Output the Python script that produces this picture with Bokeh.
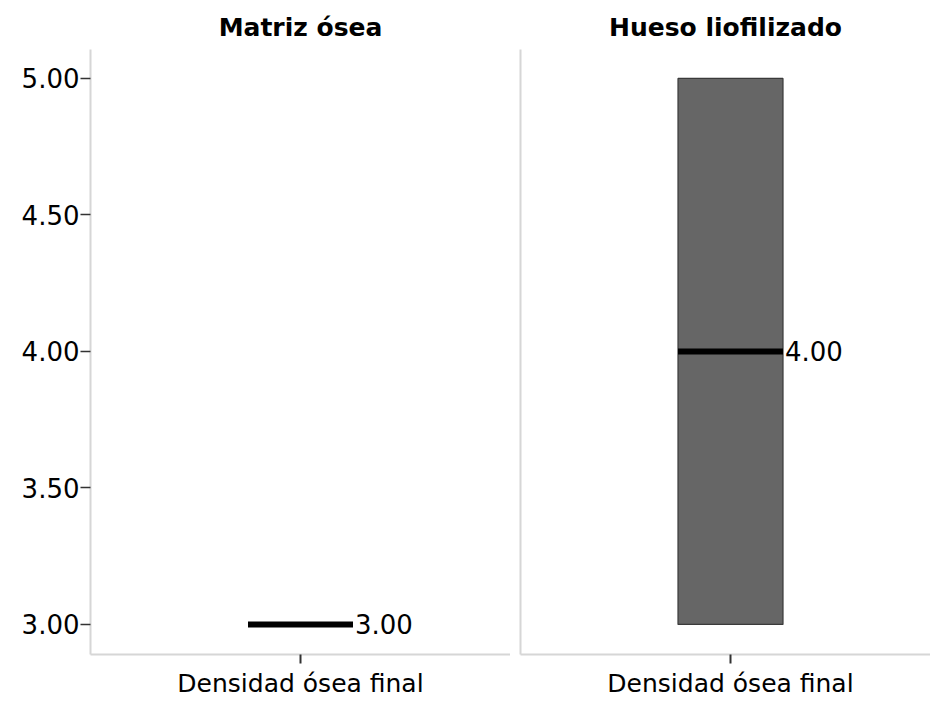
from bokeh.plotting import figure
from bokeh.layouts import row
from bokeh.models import Range1d, FixedTicker, NumeralTickFormatter, ColumnDataSource
from bokeh.core.properties import value
from bokeh.embed import file_html
from bokeh.resources import INLINE

# Box-plot summary of final bone density per graft type
groups = ["Matriz ósea", "Hueso liofilizado"]
variable = "Densidad ósea final"
minimum = [3.0, 3.0]
q1 = [3.0, 3.0]
median = [3.0, 4.0]
q3 = [3.0, 5.0]
maximum = [3.0, 5.0]
y_ticks = [3.0, 3.5, 4.0, 4.5, 5.0]

FONT = "DejaVu Sans"
AXIS_GREY = "#d6d6d6"
BOX_W = 0.25
Y_RANGE = (2.890, 5.106)


def make_panel(i, width, border_left, x_end, show_y):
    p = figure(width=width, height=704, output_backend="svg", toolbar_location=None,
               x_range=Range1d(0, x_end), y_range=Range1d(*Y_RANGE),
               min_border_left=border_left, min_border_right=0,
               min_border_top=49, min_border_bottom=50)
    p.title.text = groups[i]
    p.title.align = "center"
    p.title.text_font = FONT
    p.title.text_font_size = "25px"
    p.title.text_font_style = "bold"
    p.title.text_color = "black"
    p.title.standoff = 15
    p.outline_line_color = None
    p.xgrid.visible = False
    p.ygrid.visible = False
    p.background_fill_color = "white"
    p.border_fill_color = "white"

    xa = p.xaxis[0]
    xa.ticker = FixedTicker(ticks=[0.5])
    xa.major_label_overrides = {0.5: variable}
    xa.major_label_text_font = FONT
    xa.major_label_text_font_size = "25px"
    xa.major_label_text_color = "black"
    xa.axis_line_color = AXIS_GREY
    xa.axis_line_width = 2
    xa.major_tick_line_color = "#333333"
    xa.major_tick_line_width = 2
    xa.major_tick_in = 0
    xa.major_tick_out = 9
    xa.minor_tick_line_color = None
    xa.major_label_standoff = 5

    ya = p.yaxis[0]
    ya.ticker = FixedTicker(ticks=y_ticks)
    ya.formatter = NumeralTickFormatter(format="0.00")
    ya.axis_line_color = AXIS_GREY
    ya.axis_line_width = 2
    ya.minor_tick_line_color = None
    if show_y:
        ya.major_label_text_font = FONT
        ya.major_label_text_font_size = "26px"
        ya.major_label_text_color = "black"
        ya.major_tick_line_color = "#333333"
        ya.major_tick_line_width = 1.5
        ya.major_tick_in = 0
        ya.major_tick_out = 10
        ya.major_label_standoff = 1
    else:
        ya.major_label_text_alpha = 0
        ya.major_label_text_font_size = "1px"
        ya.major_tick_line_color = None
        ya.major_label_standoff = 0

    src = ColumnDataSource(dict(
        x=[0.5], lo=[minimum[i]], q1=[q1[i]], med=[median[i]], q3=[q3[i]], hi=[maximum[i]],
        x0=[0.5 - BOX_W / 2], x1=[0.5 + BOX_W / 2],
        lab=[f"{median[i]:.2f}"],
    ))
    # whiskers
    p.segment(x0="x", y0="lo", x1="x", y1="q1", source=src, line_color="#444444", line_width=1)
    p.segment(x0="x", y0="q3", x1="x", y1="hi", source=src, line_color="#444444", line_width=1)
    # interquartile box
    p.vbar(x="x", width=BOX_W, bottom="q1", top="q3", source=src,
           fill_color="#666666", line_color="#3a3a3a", line_width=1.2)
    # median
    p.segment(x0="x0", y0="med", x1="x1", y1="med", source=src,
              line_color="black", line_width=6, line_cap="butt")
    p.text(x="x1", y="med", text="lab", source=src, x_offset=2,
           text_font=value(FONT), text_font_size="26px", text_color="black",
           text_baseline="middle", text_align="left")
    return p


left = make_panel(0, 510, 90, 1.0, True)
right = make_panel(1, 420, 10, 410 / 420, False)

layout = row(left, right)
open("out.html", "w").write(file_html(layout, INLINE))
